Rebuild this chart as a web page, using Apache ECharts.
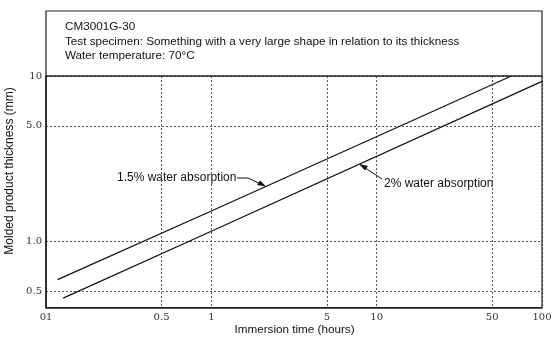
<!DOCTYPE html>
<html><head><meta charset="utf-8">
<script src="https://cdn.jsdelivr.net/npm/echarts@6/dist/echarts.min.js"></script>
<style>html,body{margin:0;padding:0;background:#fff}#c{width:557px;height:341px}</style>
</head><body><div id="c"></div>
<script>
const xTicks = [0.1, 0.5, 1, 5, 10, 50, 100];
const xTickLabels = ['01', '0.5', '1', '5', '10', '50', '100'];
const yTicks = [0.5, 1, 5, 10];
const yTickLabels = ['0.5', '1.0', '5.0', '10'];
const time15 = [0.1175, 1, 65.3];
const thick15 = [0.589, 1.53, 10];
const time2 = [0.127, 1, 100];
const thick2 = [0.456, 1.155, 9.29];
const headerLines = ['CM3001G-30', 'Test specimen: Something with a very large shape in relation to its thickness', 'Water temperature: 70°C'];

function pick(v, ticks, labels) {
  let best = 0, bd = Infinity;
  ticks.forEach((t, i) => { const d = Math.abs(Math.log10(v) - Math.log10(t)); if (d < bd) { bd = d; best = i; } });
  return labels[best];
}
const GL = 46, GT = 76, GW = 496, GH = 231.5, FT = 11;
const chart = echarts.init(document.getElementById('c'), null, {renderer: 'canvas'});
const serifLbl = {fontFamily: 'DejaVu Serif', fontSize: 10, color: '#333'};
const f12 = '12px "Liberation Sans"', f117 = '11.7px "Liberation Sans"';
chart.setOption({
  animation: false,
  backgroundColor: '#fff',
  grid: {left: GL, top: GT, width: GW, height: GH, show: false},
  xAxis: {
    type: 'log', min: 0.1, max: 100, logBase: 10,
    axisLine: {show: true, onZero: false, lineStyle: {color: '#222', width: 1.6}},
    axisTick: {show: false, customValues: xTicks},
    axisLabel: Object.assign({customValues: xTicks, margin: 5, formatter: v => pick(v, xTicks, xTickLabels)}, serifLbl),
    splitLine: {show: true, lineStyle: {color: '#555', type: [2, 2], width: 1}},
    minorTick: {show: false}, minorSplitLine: {show: false}
  },
  yAxis: {
    type: 'log', min: 0.4, max: 10, logBase: 10,
    axisLine: {show: true, onZero: false, lineStyle: {color: '#222', width: 1.6}},
    axisTick: {show: false, customValues: yTicks},
    axisLabel: Object.assign({customValues: yTicks, margin: 4, formatter: v => pick(v, yTicks, yTickLabels)}, serifLbl),
    splitLine: {show: true, lineStyle: {color: '#555', type: [2, 2], width: 1}},
    minorTick: {show: false}, minorSplitLine: {show: false}
  },
  series: [
    {name: '1.5% water absorption', type: 'line', showSymbol: false, symbol: 'none',
     data: time15.map((t, i) => [t, thick15[i]]), lineStyle: {color: '#111', width: 1.3}},
    {name: '2% water absorption', type: 'line', showSymbol: false, symbol: 'none',
     data: time2.map((t, i) => [t, thick2[i]]), lineStyle: {color: '#111', width: 1.3}}
  ],
  graphic: [
    {type: 'rect', shape: {x: GL, y: FT, width: GW, height: GT + GH - FT}, style: {fill: null, stroke: '#222', lineWidth: 1.2}, z: 10, silent: true},
    {type: 'line', shape: {x1: GL, y1: GT, x2: GL + GW, y2: GT}, style: {stroke: '#222', lineWidth: 1.5}, z: 10},
    {type: 'text', x: 65, y: 27, style: {text: headerLines[0], font: f117, fill: '#111', verticalAlign: 'middle'}},
    {type: 'text', x: 65, y: 41.5, style: {text: headerLines[1], font: f117, fill: '#111', verticalAlign: 'middle'}},
    {type: 'text', x: 65, y: 55.5, style: {text: headerLines[2], font: f117, fill: '#111', verticalAlign: 'middle'}},
    {type: 'text', x: 294.5, y: 330, style: {text: 'Immersion time (hours)', font: f117, fill: '#111', align: 'center', verticalAlign: 'middle'}},
    {type: 'text', x: 10, y: 171, rotation: Math.PI / 2, style: {text: 'Molded product thickness (mm)', font: f12, fill: '#111', align: 'center', verticalAlign: 'middle'}},
    {type: 'text', x: 117, y: 178, style: {text: '1.5% water absorption', font: f12, fill: '#111', verticalAlign: 'middle'}},
    {type: 'polyline', shape: {points: [[237, 178], [248, 178], [265, 186]]}, style: {stroke: '#111', lineWidth: 1, fill: null}},
    {type: 'polygon', shape: {points: [[266, 186.5], [257, 185], [260, 180.5]]}, style: {fill: '#111'}},
    {type: 'text', x: 384, y: 184, style: {text: '2% water absorption', font: f12, fill: '#111', verticalAlign: 'middle'}},
    {type: 'line', shape: {x1: 382, y1: 179, x2: 360, y2: 164.5}, style: {stroke: '#111', lineWidth: 1}},
    {type: 'polygon', shape: {points: [[359, 164], [368, 166], [365, 170.5]]}, style: {fill: '#111'}}
  ]
});
</script></body></html>
